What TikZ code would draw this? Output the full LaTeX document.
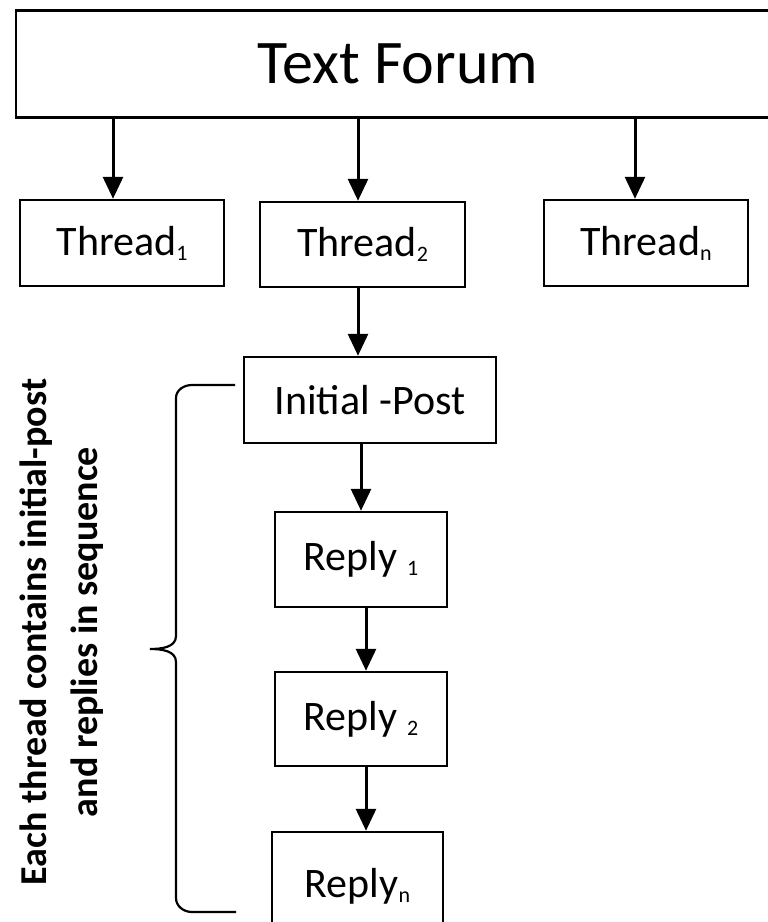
\documentclass[tikz,border=0pt]{standalone}
\usepackage{fontspec}
\setmainfont{Carlito}
\usetikzlibrary{arrows.meta}
\newcommand{\sbx}[1]{\raisebox{-0.12em}{\fontsize{22}{22}\selectfont #1}}
\begin{document}
\begin{tikzpicture}[x=1pt,y=-1pt,
  box/.style={draw=black,line width=2.5pt,inner sep=0pt,font=\fontsize{42}{45}\selectfont},
  arr/.style={line width=3pt,-{Triangle[length=22pt,width=20pt]}},
  brace/.style={line width=2.2pt}]
\useasboundingbox (0,0) rectangle (768,922);
\clip (0,0) rectangle (768,922);
\fill[white] (0,0) rectangle (768,922);
\node[box,minimum width=764pt,minimum height=107pt,font=\fontsize{62}{66}\selectfont] (tf) at (398,64) {Text Forum};
\node[box,minimum width=204pt,minimum height=86pt] (t1) at (122,243) {Thread\sbx{1}};
\node[box,minimum width=205pt,minimum height=85pt] (t2) at (362.5,244.5) {Thread\sbx{2}};
\node[box,minimum width=204pt,minimum height=86pt] (tn) at (646,243) {Thread\sbx{n}};
\node[box,minimum width=252pt,minimum height=86pt] (ip) at (370,400) {Initial -Post};
\node[box,minimum width=172pt,minimum height=95pt] (r1) at (361,559.5) {Reply \sbx{1}};
\node[box,minimum width=172pt,minimum height=94pt] (r2) at (361,719) {Reply \sbx{2}};
\node[box,minimum width=171pt,minimum height=108pt] (rn) at (357.5,886) {Reply\sbx{n}};
\draw[arr] ([xshift=-9pt]t1.north |- tf.south) -- ([xshift=-9pt]t1.north);
\draw[arr] ([xshift=-4.5pt]t2.north |- tf.south) -- ([xshift=-4.5pt]t2.north);
\draw[arr] ([xshift=-11pt]tn.north |- tf.south) -- ([xshift=-11pt]tn.north);
\draw[arr] ([xshift=-4.5pt]t2.south) -- ([xshift=-4.5pt]t2.south |- ip.north);
\draw[arr] (ip.south -| r1.north) -- (r1.north);
\draw[arr] ([xshift=5pt]r1.south) -- ([xshift=5pt]r2.north);
\draw[arr] ([xshift=5pt]r2.south) -- ([xshift=5pt]r2.south |- rn.north);
\coordinate (bt) at (235,385);
\coordinate (bb) at (236,912);
\draw[brace] (bt) -- (192,385) to[out=180,in=90] (176,398) -- (176,636)
  to[out=-90,in=0] (150,649) to[out=0,in=90] (176,662) -- (176,898)
  to[out=-90,in=180] (192,912) -- (bb);
\node[rotate=90,align=center,font=\fontsize{38}{51}\selectfont\bfseries] (lbl) at (62,632)
  {Each thread contains initial-post\\and replies in sequence};
\end{tikzpicture}
\end{document}
